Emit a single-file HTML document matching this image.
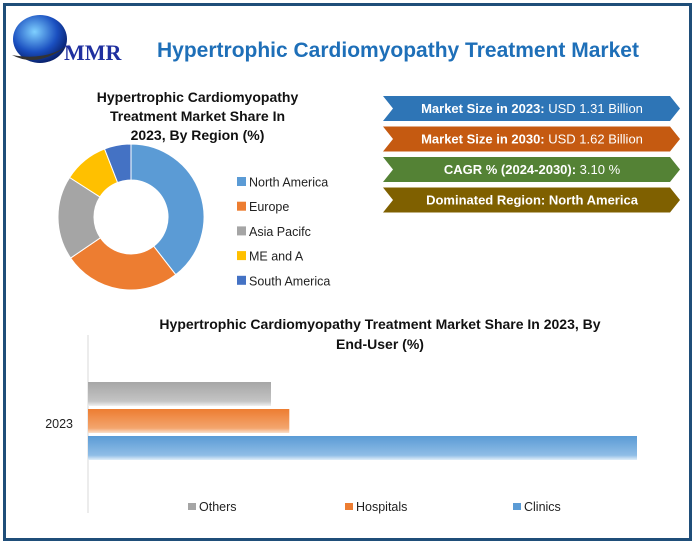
<!DOCTYPE html>
<html><head><meta charset="utf-8"><style>
body{margin:0;width:694px;height:542px;background:#fff;font-family:"Liberation Sans",sans-serif;overflow:hidden;position:relative}
.frame{position:absolute;left:3px;top:3px;width:683px;height:532px;border:3px solid #1f4e79}
.t{position:absolute;text-align:center;font-weight:bold;color:#111}
</style></head><body>
<div class="frame"></div>
<svg width="694" height="542" style="position:absolute;left:0;top:0">
<defs>
<radialGradient id="gl" cx="0.4" cy="0.35" r="0.7"><stop offset="0" stop-color="#7fd0ff"/><stop offset="0.6" stop-color="#1a4fc0"/><stop offset="1" stop-color="#061a60"/></radialGradient>
<linearGradient id="gG" x1="0" y1="0" x2="0" y2="1"><stop offset="0" stop-color="#a6a6a6"/><stop offset="0.8" stop-color="#c4c4c4"/><stop offset="1" stop-color="#f0f0f0"/></linearGradient>
<linearGradient id="gO" x1="0" y1="0" x2="0" y2="1"><stop offset="0" stop-color="#ed7d31"/><stop offset="0.8" stop-color="#f3a56e"/><stop offset="1" stop-color="#fbe0cc"/></linearGradient>
<linearGradient id="gB" x1="0" y1="0" x2="0" y2="1"><stop offset="0" stop-color="#5b9bd5"/><stop offset="0.8" stop-color="#8fbde6"/><stop offset="1" stop-color="#e0eef9"/></linearGradient>
</defs>
<g>
<ellipse cx="40" cy="39" rx="27" ry="24" fill="url(#gl)"/>
<path d="M12 55 Q40 70 75 40 Q50 62 12 55Z" fill="#333"/>
<text x="64" y="60" font-family="Liberation Serif,serif" font-weight="bold" font-size="22" fill="#1f2f9f">MMR</text>
</g>
<text x="157" y="57" font-size="21" font-weight="bold" fill="#1e6fb8">Hypertrophic Cardiomyopathy Treatment Market</text>
<g id="donut"></g>
<g id="infobanners"></g>
<g id="bars"></g>
</svg>
<div class="t" style="left:60px;top:88px;width:275px;font-size:14px;line-height:19px">Hypertrophic Cardiomyopathy<br>Treatment Market Share In<br>2023, By Region (%)</div>
<div class="t" style="left:90px;top:314px;width:580px;font-size:14px;line-height:20px">Hypertrophic Cardiomyopathy Treatment Market Share In 2023, By<br>End-User (%)</div>
<script>
const regions=["North America","Europe","Asia Pacifc","ME and A","South America"];
const regionShares=[39.5,26,18.6,10,5.9];
const regionColors=["#5b9bd5","#ed7d31","#a5a5a5","#ffc000","#4472c4"];
const endUsers=["Others","Hospitals","Clinics"];
const endUserValues=[20,22,60];
const endUserFill=["url(#gG)","url(#gO)","url(#gB)"];
const endUserLegend=["#a5a5a5","#ed7d31","#5b9bd5"];
const banners=[["Market Size in 2023:"," USD 1.31 Billion","#2e75b6"],["Market Size in 2030:"," USD 1.62 Billion","#c55a11"],["CAGR % (2024-2030):"," 3.10 %","#548235"],["Dominated Region: North America","","#7f6000"]];
const NS="http://www.w3.org/2000/svg";
function mk(t,a,p){const e=document.createElementNS(NS,t);for(const k in a)e.setAttribute(k,a[k]);p.appendChild(e);return e;}
// donut
const dg=document.getElementById('donut');
const cx=131,cy=217,R=73,r=37;
let tot=regionShares.reduce((a,b)=>a+b,0),ang=0;
regionShares.forEach((v,i)=>{
 const a0=ang/tot*2*Math.PI,a1=(ang+v)/tot*2*Math.PI;ang+=v;
 const p=(rad,a)=>[cx+rad*Math.sin(a),cy-rad*Math.cos(a)];
 const lg=(a1-a0)>Math.PI?1:0;
 const [x0,y0]=p(R,a0),[x1,y1]=p(R,a1),[x2,y2]=p(r,a1),[x3,y3]=p(r,a0);
 const s=mk('path',{d:`M${x0} ${y0}A${R} ${R} 0 ${lg} 1 ${x1} ${y1}L${x2} ${y2}A${r} ${r} 0 ${lg} 0 ${x3} ${y3}Z`,fill:regionColors[i],stroke:'#fff','stroke-width':1},dg);
 
 
 const ly=182+i*24.7;
 const lr=mk('rect',{x:237,y:ly-5,width:9,height:9,fill:regionColors[i]},dg);
 
 
 const lt=mk('text',{x:249,y:ly+4.5,'font-size':12.5,fill:'#222'},dg);lt.textContent=regions[i];
 
 
});
// banners
const bg=document.getElementById('infobanners');
banners.forEach((b,i)=>{
 const y=96+i*30.5,h=25,x0=383,x1=680;
 const pg=mk('polygon',{points:`${x0},${y} ${x1-10},${y} ${x1},${y+h/2} ${x1-10},${y+h} ${x0},${y+h} ${x0+10},${y+h/2}`,fill:b[2]},bg);
 
 
 const t=mk('text',{x:532,y:y+17,'text-anchor':'middle','font-size':13,fill:'#fff'},bg);
 const s1=mk('tspan',{'font-weight':'bold'},t);s1.textContent=b[0];
 const s2=mk('tspan',{},t);s2.textContent=b[1];
 
 
});
// bars
const bb=document.getElementById('bars');
const X0=88,W=549,maxV=60;
const xs=v=>X0+v/maxV*W;
const ax=mk('line',{x1:X0,y1:335,x2:X0,y2:513,stroke:'#d9d9d9'},bb);


const yl=mk('text',{x:73,y:428,'text-anchor':'end','font-size':12.5,fill:'#222'},bb);yl.textContent='2023';


endUserValues.forEach((v,i)=>{
 const br=mk('rect',{x:X0,y:382+i*27,width:xs(v)-X0,height:24,fill:endUserFill[i]},bb);
 
 
 const lx=[188,345,513][i];
 const sw=mk('rect',{x:lx,y:503,width:8,height:7,fill:endUserLegend[i]},bb);
 
 
 const lt=mk('text',{x:lx+11,y:511,'font-size':12.5,fill:'#222'},bb);lt.textContent=endUsers[i];
 
 
});
</script>
</body></html>
